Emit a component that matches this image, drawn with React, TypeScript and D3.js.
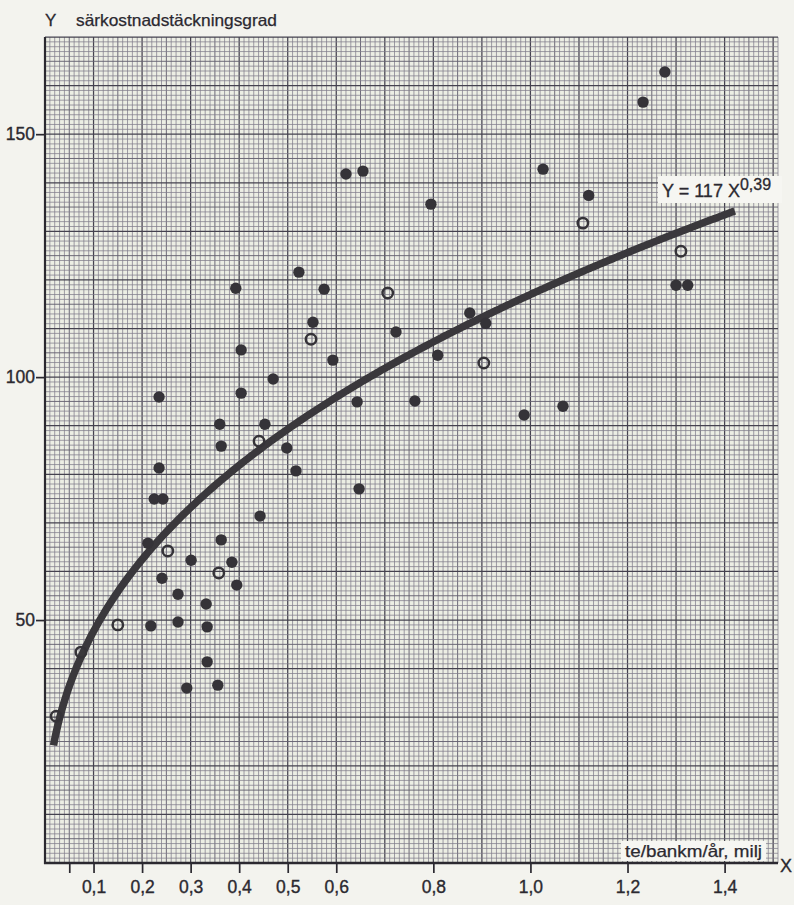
import * as React from "react";
import * as d3 from "d3";

// filled dots: [x, y]
const filledPoints: [number, number][] = [
  [1.277, 162.8], [1.232, 156.6], [1.026, 142.8], [1.12, 137.4], [0.795, 135.6],
  [1.3, 118.9], [1.324, 118.9], [0.62, 141.8], [0.655, 142.4], [0.523, 121.6],
  [0.575, 118.1], [0.393, 118.3], [0.552, 111.3], [0.723, 109.3], [0.875, 113.2],
  [0.908, 111.1], [0.593, 103.5], [0.809, 104.5], [0.404, 105.6], [0.404, 96.7],
  [0.47, 99.6], [0.235, 95.9], [0.643, 94.9], [0.762, 95.1], [0.987, 92.2],
  [1.067, 94.0], [0.36, 90.3], [0.453, 90.3], [0.363, 85.8], [0.498, 85.4],
  [0.235, 81.3], [0.517, 80.7], [0.225, 74.9], [0.243, 74.9], [0.647, 77.0],
  [0.443, 71.4], [0.212, 65.8], [0.363, 66.5], [0.301, 62.3], [0.241, 58.6],
  [0.385, 61.9], [0.395, 57.2], [0.274, 55.3], [0.332, 53.3], [0.218, 48.8],
  [0.274, 49.6], [0.334, 48.6], [0.334, 41.4], [0.292, 36.0], [0.356, 36.6],
];

// open rings: [x, y]
const openPoints: [number, number][] = [
  [1.108, 131.7], [1.31, 125.9], [0.706, 117.3], [0.548, 107.8], [0.904, 102.9],
  [0.441, 86.8], [0.253, 64.2], [0.358, 59.7], [0.15, 49.0], [0.074, 43.4],
  [0.023, 30.2],
];

const xTicks = [0.05, 0.1, 0.2, 0.3, 0.4, 0.5, 0.6, 0.8, 1.0, 1.2, 1.4];
const yTicks = [50, 100, 150];

// fitted curve Y = 117 X^0.39
const fitA = 117;
const fitB = 0.39;
const fitRange = [0.0176, 1.421];

const yTitle = "särkostnadstäckningsgrad";
const xTitle = "te/bankm/år, milj";

export default function App() {
  const ref = React.useRef<SVGSVGElement>(null);

  React.useEffect(() => {
    const W = 794, H = 905;
    const left = 45, right = 778, top = 37, bottom = 863;
    const font = "'Liberation Sans', Arial, sans-serif";
    const ink = "#2b2930";

    const svg = d3.select(ref.current);
    svg.selectAll("*").remove();

    const x = d3.scaleLinear().domain([0, 1.51]).range([left, right]);
    const y = d3.scaleLinear().domain([0, 170]).range([bottom, top]);

    svg.append("rect").attr("width", W).attr("height", H).attr("fill", "#f3f3ee");
    svg.append("rect")
      .attr("x", left).attr("y", top)
      .attr("width", right - left).attr("height", bottom - top)
      .attr("fill", "#eceee4");

    // graph paper: 1 mm lines, heavier every 5 and 10
    const grid = svg.append("g");
    const lineStyle = (i: number) =>
      i % 10 === 0 ? ["#45424f", 1.25] : i % 5 === 0 ? ["#656271", 0.95] : ["#817e8c", 0.75];
    d3.range(0, 152).forEach(i => {
      const [c, w] = lineStyle(i);
      grid.append("line")
        .attr("x1", x(i / 100)).attr("x2", x(i / 100))
        .attr("y1", top).attr("y2", bottom)
        .attr("stroke", c as string).attr("stroke-width", w as number);
    });
    d3.range(0, 171).forEach(i => {
      const [c, w] = lineStyle(i);
      grid.append("line")
        .attr("x1", left).attr("x2", right)
        .attr("y1", y(i)).attr("y2", y(i))
        .attr("stroke", c as string).attr("stroke-width", w as number);
    });

    // axes
    const fmt = (d: number) => d === 0.05 ? "" : d3.format(".1f")(d).replace(".", ",");
    const xAxis = svg.append("g")
      .attr("transform", `translate(0,${bottom})`)
      .call(d3.axisBottom(x).tickValues(xTicks).tickFormat(fmt as any).tickSize(10).tickPadding(8));
    xAxis.select(".domain").remove();
    xAxis.selectAll(".tick line").attr("stroke", ink).attr("stroke-width", 1.7);
    xAxis.selectAll("text")
      .attr("fill", ink).attr("stroke", ink).attr("stroke-width", 0.35)
      .style("font-family", font).style("font-size", "17.5px");

    const yAxis = svg.append("g")
      .attr("transform", `translate(${left},0)`)
      .call(d3.axisLeft(y).tickValues(yTicks).tickSize(9).tickPadding(1));
    yAxis.select(".domain").remove();
    yAxis.selectAll(".tick line").attr("stroke", ink).attr("stroke-width", 1.7);
    yAxis.selectAll("text")
      .attr("fill", ink).attr("stroke", ink).attr("stroke-width", 0.35)
      .style("font-family", font).style("font-size", "17.5px");

    svg.append("line")
      .attr("x1", left).attr("x2", left).attr("y1", top).attr("y2", bottom + 1)
      .attr("stroke", ink).attr("stroke-width", 2.2);
    svg.append("line")
      .attr("x1", left - 1).attr("x2", right).attr("y1", bottom).attr("y2", bottom)
      .attr("stroke", ink).attr("stroke-width", 2.6);

    // fitted curve
    const fitX = d3.range(fitRange[0], fitRange[1], 0.004).concat([fitRange[1]]);
    const line = d3.line<number>()
      .x(d => x(d))
      .y(d => y(fitA * Math.pow(d, fitB)))
      .curve(d3.curveMonotoneX);
    svg.append("path")
      .attr("d", line(fitX))
      .attr("fill", "none")
      .attr("stroke", "#3a383c")
      .attr("stroke-width", 7.5);

    // points
    svg.append("g").selectAll("circle")
      .data(filledPoints)
      .enter()
      .append("circle")
      .attr("cx", d => x(d[0]))
      .attr("cy", d => y(d[1]))
      .attr("r", 5.7)
      .attr("fill", "#353338");

    svg.append("g").selectAll("circle")
      .data(openPoints)
      .enter()
      .append("circle")
      .attr("cx", d => x(d[0]))
      .attr("cy", d => y(d[1]))
      .attr("r", 5.2)
      .attr("fill", "none")
      .attr("stroke", "#353338")
      .attr("stroke-width", 2.5);

    // equation label
    svg.append("rect")
      .attr("x", 658).attr("y", 176).attr("width", 124).attr("height", 27)
      .attr("fill", "#f6f6f2");
    const eq = svg.append("text")
      .attr("x", 662).attr("y", 197)
      .attr("fill", ink).attr("stroke", ink).attr("stroke-width", 0.3)
      .style("font-family", font).style("font-size", "18px");
    eq.append("tspan").text(`Y = ${fitA} X`);
    eq.append("tspan").attr("dy", -7).style("font-size", "16px")
      .text(String(fitB).replace(".", ","));

    // axis titles
    svg.append("rect")
      .attr("x", 621).attr("y", 841).attr("width", 145).attr("height", 20)
      .attr("fill", "#f6f6f2");
    svg.append("text")
      .attr("x", 625).attr("y", 857)
      .attr("textLength", 137).attr("lengthAdjust", "spacingAndGlyphs")
      .attr("fill", ink).attr("stroke", ink).attr("stroke-width", 0.25)
      .style("font-family", font).style("font-size", "16.5px")
      .text(xTitle);
    svg.append("text")
      .attr("x", 780).attr("y", 872)
      .attr("fill", ink).attr("stroke", ink).attr("stroke-width", 0.3)
      .style("font-family", font).style("font-size", "18px")
      .text("X");

    svg.append("text")
      .attr("x", 45).attr("y", 26)
      .attr("fill", ink).attr("stroke", ink).attr("stroke-width", 0.3)
      .style("font-family", font).style("font-size", "17px")
      .text("Y");
    svg.append("text")
      .attr("x", 76).attr("y", 26)
      .attr("textLength", 201).attr("lengthAdjust", "spacingAndGlyphs")
      .attr("fill", ink).attr("stroke", ink).attr("stroke-width", 0.25)
      .style("font-family", font).style("font-size", "16.5px")
      .text(yTitle);
  }, []);

  return (
    <svg
      ref={ref}
      width={794}
      height={905}
      style={{ position: "absolute", left: 0, top: 0, display: "block" }}
    />
  );
}
